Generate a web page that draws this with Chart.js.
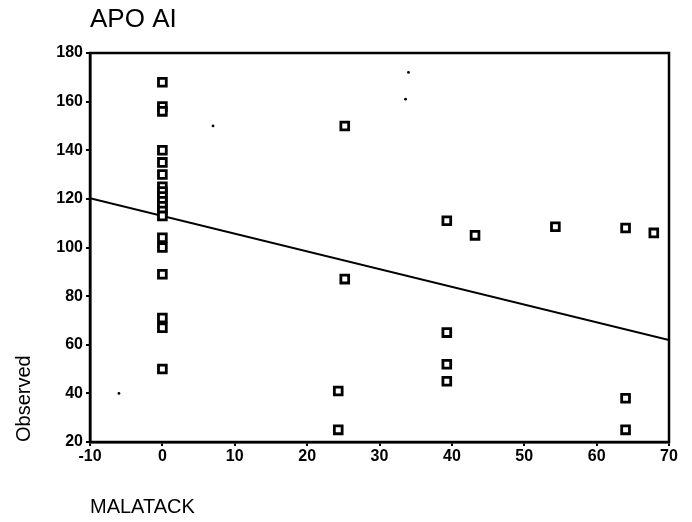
<!DOCTYPE html>
<html>
<head>
<meta charset="utf-8">
<script src="https://cdn.jsdelivr.net/npm/chart.js@4"></script>
<style>
    body { margin: 0; background: #fff; }
    #wrap { width: 692px; height: 522px; }
</style>
</head>
<body>
<div id="wrap"><canvas id="apo_chart"></canvas></div>
<script>
// observed values (squares)
const obsX = [0, 0, 0, 0, 0, 0, 0, 0, 0, 0, 0, 0, 0, 0, 0, 0, 0, 0, 0,
    25.2, 25.2, 24.3, 24.3, 39.3, 39.3, 39.3, 39.3, 43.2, 54.3, 64, 64, 64, 67.9];
const obsY = [168, 158, 156, 140, 135, 130, 125, 123, 121, 119, 117, 115, 113, 104, 100, 89, 71, 67, 50,
    150, 87, 41, 25, 111, 65, 52, 45, 105, 108.5, 108, 38, 25, 106];

// tiny dots
const dotX = [-6, 7, 34, 33.6];
const dotY = [40, 150, 172, 161];

// fitted line end points
const fitX = [-10, 70];
const fitY = [120.3, 61.9];

const xTicks = [-10, 0, 10, 20, 30, 40, 50, 60, 70];
const yTicks = [20, 40, 60, 80, 100, 120, 140, 160, 180];

const toPoints = (xs, ys) => xs.map((x, i) => ({ x: x, y: ys[i] }));

// frame + title
const framePlugin = {
    id: "frame",
    afterDatasetsDraw(chart) {
        const { ctx, chartArea } = chart;
        ctx.save();
        ctx.strokeStyle = "#000";
        ctx.lineWidth = 2.5;
        ctx.strokeRect(chartArea.left, chartArea.top,
            chartArea.right - chartArea.left, chartArea.bottom - chartArea.top);
        ctx.restore();
    },
    afterDraw(chart) {
        const ctx = chart.ctx;
        ctx.save();
        ctx.fillStyle = "#000";
        ctx.font = "26px 'Liberation Sans', Arial, sans-serif";
        ctx.textBaseline = "middle";
        ctx.textAlign = "left";
        ctx.fillText("APO AI", 90, 20);
        ctx.restore();
    }
};

const tickFont = { family: "'Liberation Sans', Arial, sans-serif", size: 16, weight: "bold" };
const titleFont = { family: "'Liberation Sans', Arial, sans-serif", size: 20 };

new Chart("apo_chart", {
    data: {
        datasets: [{
            type: "scatter",
            data: toPoints(obsX, obsY),
            pointStyle: "rect",
            pointRadius: 5.5,
            pointBorderWidth: 2.8,
            pointBorderColor: "#000",
            pointBackgroundColor: "#fff"
        }, {
            type: "scatter",
            data: toPoints(dotX, dotY),
            pointStyle: "circle",
            pointRadius: 1.4,
            pointBorderWidth: 0,
            pointBackgroundColor: "#000"
        }, {
            type: "line",
            data: toPoints(fitX, fitY),
            borderColor: "#000",
            borderWidth: 2,
            pointRadius: 0,
            fill: false
        }]
    },
    options: {
        responsive: true,
        maintainAspectRatio: false,
        animation: false,
        layout: { padding: { top: 53, right: 23, left: 0, bottom: 0 } },
        plugins: {
            legend: { display: false },
            tooltip: { enabled: false }
        },
        scales: {
            x: {
                type: "linear",
                min: -10, max: 70,
                afterBuildTicks: (axis) => { axis.ticks = xTicks.map(v => ({ value: v })); },
                afterFit: (axis) => { axis.height = 80; },
                grid: { drawOnChartArea: false, drawTicks: true, tickLength: 4, color: "#000", lineWidth: 2 },
                border: { display: true, color: "#000", width: 2.5 },
                ticks: { color: "#000", font: tickFont, padding: 1, maxRotation: 0 },
                title: {
                    display: true, text: "MALATACK", align: "start",
                    color: "#000", font: titleFont, padding: { top: 0, bottom: 3 }
                }
            },
            y: {
                type: "linear",
                min: 20, max: 180,
                afterBuildTicks: (axis) => { axis.ticks = yTicks.map(v => ({ value: v })); },
                afterFit: (axis) => { axis.width = 90; },
                grid: { drawOnChartArea: false, drawTicks: true, tickLength: 4, color: "#000", lineWidth: 2 },
                border: { display: true, color: "#000", width: 2.5 },
                ticks: { color: "#000", font: tickFont, padding: 3 },
                title: {
                    display: true, text: "Observed", align: "start",
                    color: "#000", font: titleFont, padding: { top: 12, bottom: 0 }
                }
            }
        }
    },
    plugins: [framePlugin]
});
</script>
</body>
</html>
